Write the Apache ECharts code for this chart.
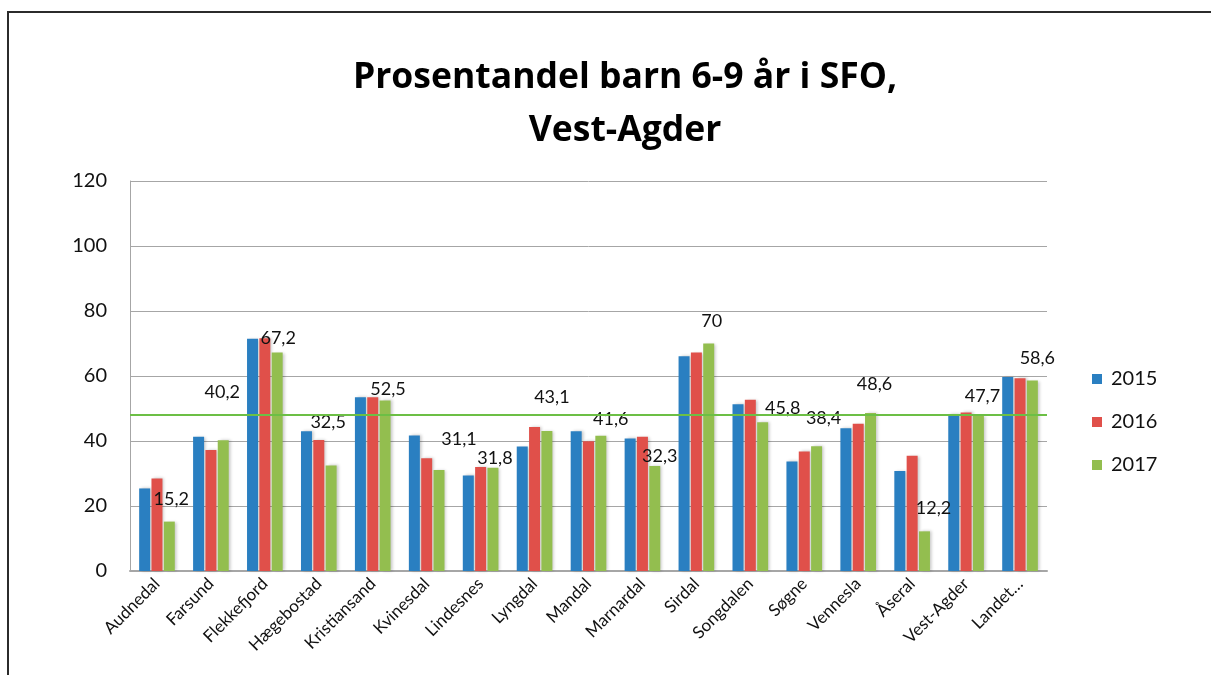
<!DOCTYPE html>
<html>
<head>
<meta charset="utf-8">
<script src="https://cdn.jsdelivr.net/npm/echarts@6/dist/echarts.min.js"></script>
<style>
  html, body { margin: 0; padding: 0; background: #fff; }
  #frame {
    position: absolute; left: 7px; top: 11px; width: 1220px; height: 680px;
    border-left: 2px solid #2b2b2b; border-top: 2px solid #2b2b2b;
  }
  #chart { position: absolute; left: 0; top: 0; width: 1211px; height: 675px; }
</style>
</head>
<body>
<div id="frame"></div>
<div id="chart"></div>
<script>
// kategorier og verdier lest av figuren
const kommuner = ['Audnedal', 'Farsund', 'Flekkefjord', 'Hægebostad', 'Kristiansand', 'Kvinesdal',
  'Lindesnes', 'Lyngdal', 'Mandal', 'Marnardal', 'Sirdal', 'Songdalen', 'Søgne', 'Vennesla',
  'Åseral', 'Vest-Agder', 'Landet…']
const years = ['2015', '2016', '2017']
const values2015 = [25.4, 41.3, 71.5, 43.0, 53.5, 41.7, 29.4, 38.3, 43.0, 40.8, 66.1, 51.3, 33.7, 43.9, 30.8, 48.2, 59.7]
const values2016 = [28.5, 37.2, 71.6, 40.3, 53.5, 34.7, 32.0, 44.3, 39.9, 41.3, 67.2, 52.7, 36.8, 45.3, 35.5, 48.8, 59.3]
const values2017 = [15.2, 40.2, 67.2, 32.5, 52.5, 31.1, 31.8, 43.1, 41.6, 32.3, 70, 45.8, 38.4, 48.6, 12.2, 47.7, 58.6]
const referenceLine = 48
const yTicks = [0, 20, 40, 60, 80, 100, 120]

const colors = ['#2a7fc1', '#e0504a', '#93be4f']
const fontFamily = 'Lato, "Open Sans", sans-serif'

// etikettforskyvning (Excel plasserer etikettene litt tilfeldig)
const labelShift = [[2, -8], [-1, -34], [1, 0], [-3, -29], [3, 3], [20, -17], [2, 5], [5, -20], [10, -3],
  [5, 4], [3, -8], [20, 0], [7, -14], [4, -15], [9, -9], [4, -6], [5, -8]]

const chart = echarts.init(document.getElementById('chart'))

const barSeries = (name, data, idx) => ({
  name,
  type: 'bar',
  data,
  barWidth: 11,
  barGap: '12%',
  itemStyle: {
    color: colors[idx],
    shadowColor: 'rgba(0,0,0,0.22)',
    shadowBlur: 3,
    shadowOffsetX: 2,
    shadowOffsetY: 0
  }
})

const series = [
  barSeries(years[0], values2015, 0),
  barSeries(years[1], values2016, 1),
  {
    ...barSeries(years[2], values2017.map((v, i) => ({
      value: v,
      label: { offset: labelShift[i] }
    })), 2),
    label: {
      show: true,
      position: 'top',
      distance: 5,
      color: '#111',
      fontSize: 18,
      fontFamily,
      formatter: (p) => String(p.value).replace('.', ',')
    },
    markLine: {
      silent: true,
      symbol: 'none',
      label: { show: false },
      lineStyle: { color: '#6cbf45', width: 2, type: 'solid' },
      data: [{ yAxis: referenceLine }]
    }
  }
]

chart.setOption({
  animation: false,
  title: {
    text: 'Prosentandel barn 6-9 år i SFO,\nVest-Agder',
    left: 620,
    top: 46,
    textAlign: 'center',
    textStyle: {
      fontFamily: '"Open Sans", Lato, sans-serif',
      fontWeight: 'bold',
      fontSize: 35.5,
      lineHeight: 53,
      color: '#000'
    }
  },
  legend: {
    orient: 'vertical',
    left: 1087,
    top: 364,
    itemWidth: 10,
    itemHeight: 10,
    itemGap: 23,
    icon: 'rect',
    data: years,
    textStyle: { fontFamily, fontSize: 20, color: '#111', padding: [0, 0, 0, 4] }
  },
  grid: {
    left: 130,
    right: 164,
    top: 181,
    bottom: 104,
    containLabel: false
  },
  xAxis: {
    type: 'category',
    data: kommuner,
    axisTick: { show: false },
    axisLine: { lineStyle: { color: '#a6a6a6', width: 2 } },
    axisLabel: {
      rotate: 45,
      interval: 0,
      margin: 10,
      fontFamily,
      fontSize: 17,
      color: '#111'
    }
  },
  yAxis: {
    type: 'value',
    min: yTicks[0],
    max: yTicks[yTicks.length - 1],
    interval: 20,
    axisLine: { show: true, lineStyle: { color: '#a6a6a6', width: 1 } },
    axisTick: { show: false },
    splitLine: { lineStyle: { color: '#a6a6a6', width: 1 } },
    axisLabel: {
      margin: 23,
      fontFamily,
      fontSize: 20,
      color: '#111'
    }
  },
  series
})

window.addEventListener('resize', () => chart.resize())
</script>
</body>
</html>
